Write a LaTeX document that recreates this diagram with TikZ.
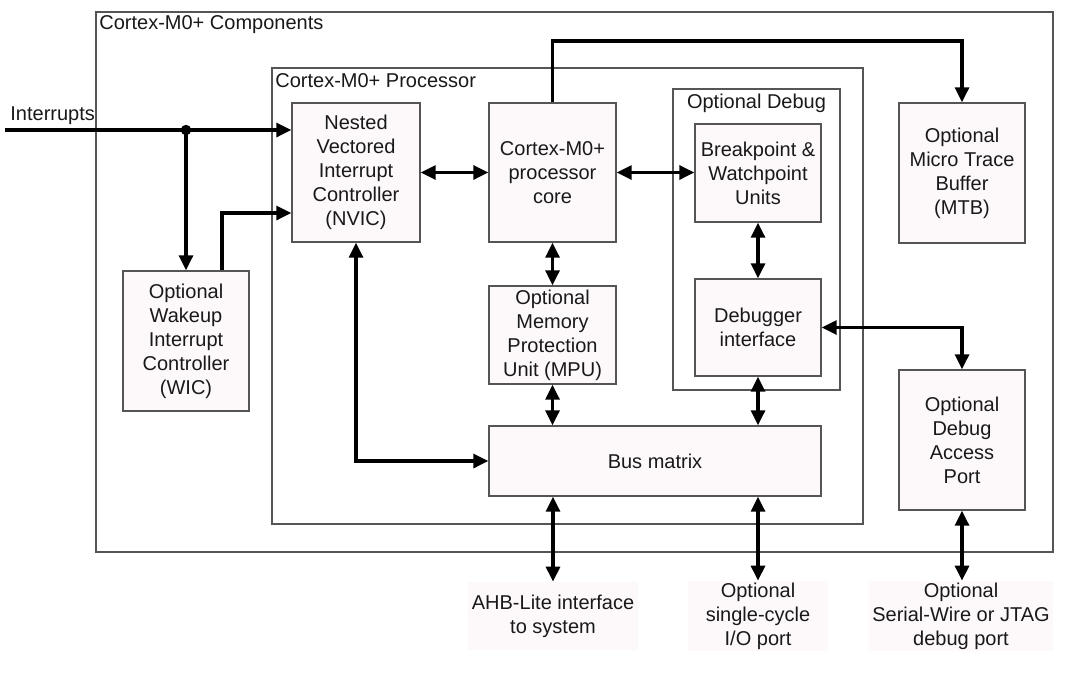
\documentclass[tikz,border=0pt]{standalone}
\usepackage{fontspec}
\setmainfont{Liberation Sans}
\usetikzlibrary{arrows.meta}
\definecolor{boxfill}{RGB}{253,249,251}
\definecolor{boxline}{RGB}{85,85,85}
\begin{document}
\begin{tikzpicture}[x=0.5pt,y=-0.5pt]
\useasboundingbox (0,0) rectangle (1069,675);
\tikzstyle{every node}=[font=\fontsize{10}{12}\selectfont,text=black!90,inner sep=0pt];
\tikzstyle{frame}=[draw=boxline,line width=0.7pt,fill=white];
\tikzstyle{unit}=[draw=boxline,line width=0.7pt,fill=boxfill,align=center];
\tikzstyle{port}=[fill=boxfill,align=center];
\tikzstyle{link}=[line width=1.6pt,-{Triangle[length=7.5pt,width=7pt]}];
\tikzstyle{both}=[line width=1.6pt,{Triangle[length=7.5pt,width=7pt]}-{Triangle[length=7.5pt,width=7pt]}];
% frames
\node[frame,minimum width=478.5pt,minimum height=270pt] (comp) at (574.5,282) {};
\node[anchor=west] at (99,25) {Cortex-M0+ Components};
\node[frame,minimum width=295.5pt,minimum height=228pt] (proc) at (567.5,296) {};
\node[anchor=west] at (275,81) {Cortex-M0+ Processor};
\node[frame,minimum width=83.5pt,minimum height=150.5pt] (dbg) at (756.5,239.5) {};
\node at (756.5,103) {Optional Debug};
% blocks
\node[unit,minimum width=64pt,minimum height=69.5pt] (nvic) at (356,172.5) {Nested\\Vectored\\Interrupt\\Controller\\(NVIC)};
\node[unit,minimum width=63.5pt,minimum height=69.5pt] (core) at (552.5,172.5) {Cortex-M0+\\processor\\core};
\node[unit,minimum width=63pt,minimum height=49pt] (bkpt) at (758,173) {Breakpoint \&\\Watchpoint\\Units};
\node[unit,minimum width=63pt,minimum height=48.5pt] (dbgif) at (758,327.5) {Debugger\\interface};
\node[unit,minimum width=63.5pt,minimum height=49pt] (mpu) at (552.5,335) {Optional\\Memory\\Protection\\Unit (MPU)};
\node[unit,minimum width=166pt,minimum height=35pt] (bus) at (655,461) {Bus matrix};
\node[unit,minimum width=63pt,minimum height=70pt] (wic) at (186,341) {Optional\\Wakeup\\Interrupt\\Controller\\(WIC)};
\node[unit,minimum width=63pt,minimum height=70pt] (mtb) at (962,173) {Optional\\Micro Trace\\Buffer\\(MTB)};
\node[unit,minimum width=63pt,minimum height=70pt] (dap) at (962,440) {Optional\\Debug\\Access\\Port};
% external ports
\node[port,minimum width=85pt,minimum height=34pt] (ahb) at (553,616) {AHB-Lite interface\\to system};
\node[port,minimum width=70pt,minimum height=35pt] (sio) at (758,616) {Optional\\single-cycle\\I/O port};
\node[port,minimum width=92pt,minimum height=35pt] (jtag) at (961,616) {Optional\\Serial-Wire or JTAG\\debug port};
% interrupts
\coordinate (irq) at (5,130);
\coordinate (wake) at (222,213);
\coordinate (trace) at (962,41);
\node[anchor=south west] at (10,125) {Interrupts};
\draw[link] (irq) -- (irq -| nvic.west);
\draw[link] (irq -| wic.north) -- (wic.north);
\fill (irq -| wic.north) circle (2.6pt);
\draw[link] (wake |- wic.north) |- (wake -| nvic.west);
% processor links
\draw[both] (nvic.east) -- (core.west);
\draw[both] (core.east) -- (core.east -| bkpt.west);
\draw[link] (core.north) |- (trace) -- (mtb.north);
\draw[both] (core.south) -- (mpu.north);
\draw[both] (mpu.south) -- (mpu.south |- bus.north);
\draw[both] (bkpt.south) -- (dbgif.north);
\draw[both] (dbgif.south) -- (dbgif.south |- bus.north);
\draw[both] (nvic.south) |- (bus.west);
\draw[both] (dbgif.east) -| (dap.north);
% outside
\draw[both] (bus.south -| ahb.north) -- (ahb.north);
\draw[both] (bus.south -| sio.north) -- (sio.north);
\draw[both] (dap.south) -- (dap.south |- jtag.north);
\end{tikzpicture}
\end{document}
